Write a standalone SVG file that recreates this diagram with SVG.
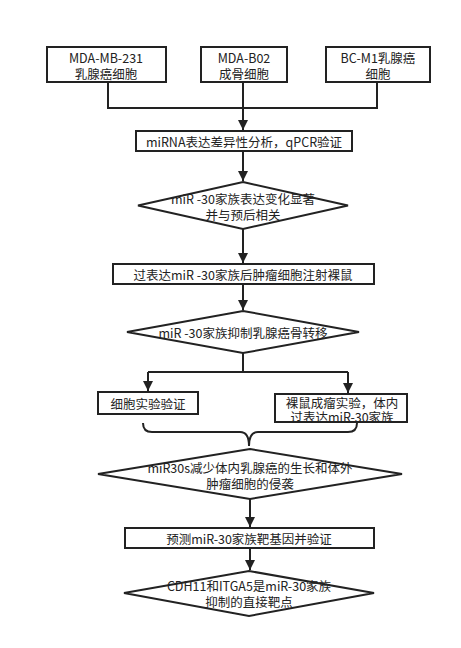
<svg xmlns="http://www.w3.org/2000/svg" width="461" height="648" viewBox="0 0 461 648">
<style>
.s{fill:#fff;stroke:#222;stroke-width:2}
.c{fill:none;stroke:#222;stroke-width:2}
text{font-family:"Noto Sans CJK SC","Liberation Sans",sans-serif;font-size:12.5px;fill:#222;text-anchor:middle;dominant-baseline:central}
</style>
<defs>
<marker id="a" viewBox="0 0 10 10" refX="10" refY="5" markerWidth="5" markerHeight="5" orient="auto" markerUnits="strokeWidth">
<path d="M0,0 L10,5 L0,10 z" fill="#222"/>
</marker>
</defs>
<rect width="461" height="648" fill="#fff"/>
<g id="connectors">
<path class="c" d="M108,82 V108 H377 V82"/>
<path class="c" d="M243,82 V130" marker-end="url(#a)"/>
<path class="c" d="M243,151 V181" marker-end="url(#a)"/>
<path class="c" d="M243,229 V263" marker-end="url(#a)"/>
<path class="c" d="M243,284 V310" marker-end="url(#a)"/>
<path class="c" d="M243,353 V372"/>
<path class="c" d="M148,372 H348"/>
<path class="c" d="M148,372 V391" marker-end="url(#a)"/>
<path class="c" d="M348,372 V393" marker-end="url(#a)"/>
<path class="c" d="M143,423 Q143,432 152,432 L240,432 Q249,432 249,446 Q249,432 258,432 L348,432 Q357,432 357,423"/>
<path class="c" d="M250,499 V527" marker-end="url(#a)"/>
<path class="c" d="M250,548 V570" marker-end="url(#a)"/>
</g>
<g id="n1"><rect class="s" x="47" y="47" width="119" height="35"/><text x="106" y="57">MDA-MB-231</text><text x="106" y="73">乳腺癌细胞</text></g>
<g id="n2"><rect class="s" x="201" y="47" width="86" height="35"/><text x="244" y="57">MDA-B02</text><text x="244" y="73">成骨细胞</text></g>
<g id="n3"><rect class="s" x="326" y="47" width="104" height="35"/><text x="378" y="57">BC-M1乳腺癌</text><text x="378" y="73">细胞</text></g>
<g id="n4"><rect class="s" x="136" y="131" width="216" height="20"/><text x="244" y="141">miRNA表达差异性分析，qPCR验证</text></g>
<g id="n5"><polygon class="s" points="243,182 348,205.5 243,229 138,205.5"/><text x="243" y="198">miR -30家族表达变化显著</text><text x="243" y="214">并与预后相关</text></g>
<g id="n6"><rect class="s" x="113" y="264" width="261" height="20"/><text x="243" y="274">过表达miR -30家族后肿瘤细胞注射裸鼠</text></g>
<g id="n7"><polygon class="s" points="243,311 359,332 243,353 127,332"/><text x="243" y="332">miR -30家族抑制乳腺癌骨转移</text></g>
<g id="n8"><rect class="s" x="98" y="392" width="100" height="22"/><text x="148" y="403">细胞实验验证</text></g>
<g id="n9"><rect class="s" x="275" y="394" width="132" height="28"/><text x="342" y="402">裸鼠成瘤实验，体内</text><text x="342" y="416">过表达miR-30家族</text></g>
<g id="n10"><polygon class="s" points="250,449 402,474 250,499 98,474"/><text x="250" y="467">miR30s减少体内乳腺癌的生长和体外</text><text x="250" y="483">肿瘤细胞的侵袭</text></g>
<g id="n11"><rect class="s" x="125" y="528" width="249" height="20"/><text x="249" y="538">预测miR-30家族靶基因并验证</text></g>
<g id="n12"><polygon class="s" points="249,571 374,593 249,616 124,593"/><text x="249" y="585">CDH11和ITGA5是miR-30家族</text><text x="249" y="601">抑制的直接靶点</text></g>
</svg>
